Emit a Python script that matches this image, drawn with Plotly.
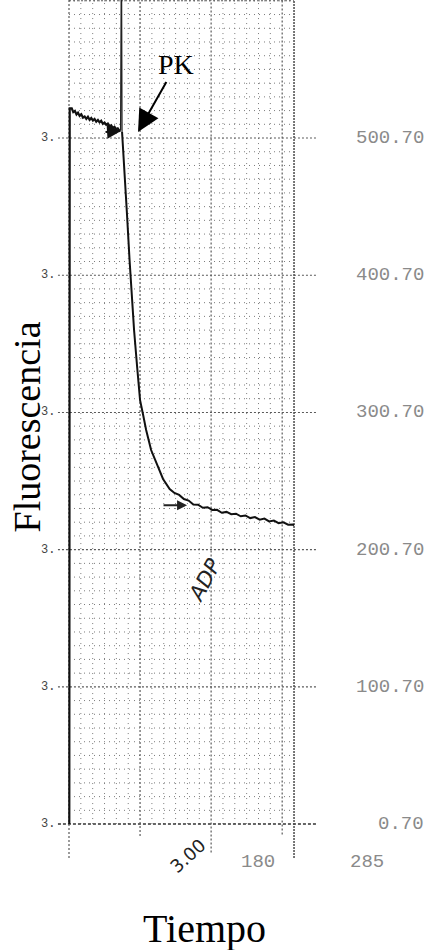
import plotly.graph_objects as go

# Fluorescence trace (time in s, fluorescence in arbitrary units)
baseline_t = [0.4, 0.9, 3.5, 5.4, 7.5, 9.5, 11.4, 13.5, 15.6, 17.7, 19.8, 21.9, 24.0, 26.1,
              28.2, 30.3, 32.4, 34.5, 36.6, 38.7, 40.8, 42.9, 45.0, 47.1, 49.2, 51.3, 53.4,
              55.5, 57.6, 59.7, 61.8, 63.9, 65.3]
baseline_f = [0.7, 522.3, 522.3, 519.6, 520.4, 517.9, 519.2, 516.8, 518.0, 515.6, 516.4, 514.6,
              516.2, 514.0, 515.3, 513.4, 514.6, 512.6, 513.8, 512.1, 513.3, 511.0, 512.0, 510.4,
              511.2, 509.2, 510.0, 508.1, 508.9, 507.2, 507.8, 506.0, 506.5]

# injection artefact when PK is added (goes off scale)
spike_t = [65.3, 65.6, 66.4, 67.2]
spike_f = [506.5, 650.0, 650.0, 505.1]

decay_t = [67.2, 70.4, 73.5, 76.7, 79.8, 82.4, 86.3, 90.0, 93.9, 97.7, 104.0, 110.3, 119.1,
           127.5, 133.5, 139.5, 145.5, 151.5, 157.5, 163.5, 169.5, 175.5, 181.5, 187.5, 193.5,
           199.5, 205.5, 211.5, 217.5, 223.5, 229.5, 235.5, 241.5, 247.5, 253.5, 259.5, 265.5,
           271.5, 277.5, 283.5, 285.0]
decay_f = [505.1, 477.4, 444.6, 411.8, 382.6, 360.8, 333.8, 309.7, 298.8, 287.9, 273.3, 264.5,
           252.2, 244.9, 242.0, 240.6, 237.6, 236.5, 233.6, 233.4, 231.2, 231.6, 229.6, 229.7,
           227.6, 228.2, 226.5, 226.9, 225.0, 225.6, 223.7, 224.4, 222.5, 223.3, 221.3, 221.9,
           220.0, 220.6, 218.9, 219.1, 218.3]

# axis scale
y_major = [0.7, 100.7, 200.7, 300.7, 400.7, 500.7]
y_minor_step = 10
x_major = [0, 90, 180, 270]
x_minor_step = 15
x_end = 285
x_labels = ["180", "285"]
x_label_pos = [180, 285]

# additions marked on the recording
pk_tip = (87.4, 505.1)
pk_mark = (65.9, 505.8)
adp_mark = (149.5, 233.0)

X_RANGE = [-17.73, 317.9]
Y_RANGE = [-25.5, 601.3]

fig = go.Figure()
fig.add_trace(go.Scatter(x=baseline_t, y=baseline_f, mode="lines",
                         line=dict(color="#111111", width=2.2),
                         hoverinfo="skip", showlegend=False))
fig.add_trace(go.Scatter(x=spike_t, y=spike_f, mode="lines",
                         line=dict(color="#222222", width=1.2),
                         hoverinfo="skip", showlegend=False))
fig.add_trace(go.Scatter(x=decay_t, y=decay_f, mode="lines",
                         line=dict(color="#111111", width=2),
                         hoverinfo="skip", showlegend=False))

shapes = []
minor_col = "#7c7c7c"
major_col = "#5a5a5a"
minor_dash = "1px,4px"
major_dash = "2px,2px"
top = Y_RANGE[1] + 5

# minor horizontal grid
for k in range(0, 61):
    v = 0.7 + y_minor_step * k
    if any(abs(v - m) < 1e-6 for m in y_major):
        continue
    shapes.append(dict(type="line", xref="x", yref="y", x0=0, x1=x_end, y0=v, y1=v,
                       line=dict(color=minor_col, width=1, dash=minor_dash), layer="below"))
# minor vertical grid
for k in range(1, 19):
    t = x_minor_step * k
    if t in x_major or t >= x_end:
        continue
    shapes.append(dict(type="line", xref="x", yref="y", x0=t, x1=t, y0=0.7, y1=top,
                       line=dict(color=minor_col, width=1, dash=minor_dash), layer="below"))
# major horizontal grid (runs past the frame)
for v in y_major:
    base = v == y_major[0]
    shapes.append(dict(type="line", xref="x", yref="y", x0=-14, x1=314, y0=v, y1=v,
                       line=dict(color="#333333" if base else major_col,
                                 width=1.6 if base else 1.1,
                                 dash="3px,2px" if base else major_dash),
                       layer="below"))
shapes.append(dict(type="line", xref="x", yref="y", x0=0, x1=x_end, y0=600.7, y1=600.7,
                   line=dict(color=major_col, width=1.1, dash=major_dash), layer="below"))
# major vertical grid (runs below the frame)
v_ends = {0: -24, 90: -8, 180: -20, 270: -7}
for t in x_major:
    shapes.append(dict(type="line", xref="x", yref="y", x0=t, x1=t, y0=v_ends[t], y1=top,
                       line=dict(color=major_col, width=1.2, dash=major_dash), layer="below"))
shapes.append(dict(type="line", xref="x", yref="y", x0=x_end, x1=x_end, y0=-24, y1=top,
                   line=dict(color="#4a4a4a", width=1.5, dash="2px,1px"), layer="below"))

annotations = []
mono = "Liberation Mono, DejaVu Sans Mono, monospace"
for v in y_major:
    annotations.append(dict(x=1.4, xref="paper", y=v, yref="y", xanchor="right",
                            yanchor="middle", text=f"{v:.2f}", showarrow=False,
                            font=dict(family=mono, size=19, color="#8a8a8a")))
    annotations.append(dict(x=0.008, xref="paper", y=v, yref="y", xanchor="right",
                            yanchor="middle", text="3.", showarrow=False,
                            font=dict(family=mono, size=12, color="#444444")))
x_shift = {"180": 47, "285": 73}
for lab, pos in zip(x_labels, x_label_pos):
    annotations.append(dict(x=pos, xref="x", y=0, yref="paper", xanchor="center",
                            yanchor="middle", yshift=-2, xshift=x_shift[lab], text=lab,
                            showarrow=False, font=dict(family=mono, size=19, color="#8a8a8a")))

serif = "Liberation Serif, Times New Roman, serif"
annotations.append(dict(x=pk_tip[0], y=pk_tip[1], xref="x", yref="y", ax=38, ay=-67,
                        text="PK", showarrow=True, arrowhead=2, arrowsize=2.2,
                        arrowwidth=2, arrowcolor="#000000", standoff=0,
                        font=dict(family=serif, size=28, color="#000000")))
annotations.append(dict(x=pk_mark[0], y=pk_mark[1], xref="x", yref="y", ax=-17, ay=1,
                        text="", showarrow=True, arrowhead=2, arrowsize=1.4,
                        arrowwidth=2, arrowcolor="#111111", standoff=0))
annotations.append(dict(x=adp_mark[0], y=adp_mark[1], xref="x", yref="y", ax=-25, ay=0,
                        text="", showarrow=True, arrowhead=2, arrowsize=1.0,
                        arrowwidth=2, arrowcolor="#222222", standoff=0))
annotations.append(dict(x=172.3, y=178.5, xref="x", yref="y", text="<i>ADP</i>",
                        showarrow=False, textangle=-62,
                        font=dict(family="DejaVu Sans", size=21, color="#222222")))
annotations.append(dict(x=180, xref="x", y=0, yref="paper", xshift=-23, yshift=-20,
                        text="3.00", showarrow=False, textangle=-42,
                        font=dict(family="DejaVu Sans", size=18, color="#222222")))
annotations.append(dict(x=-0.1075, xref="paper", y=0.5035, yref="paper", text="Fluorescencia",
                        textangle=-90, showarrow=False, xanchor="center", yanchor="middle",
                        font=dict(family=serif, size=38, color="#000000")))
annotations.append(dict(x=0.566, xref="paper", y=-0.0797, yref="paper", text="Tiempo",
                        showarrow=False, xanchor="center", yanchor="middle",
                        font=dict(family=serif, size=40, color="#000000")))

fig.update_layout(
    width=428, height=950, autosize=False,
    margin=dict(l=55, r=108, t=0, b=90, pad=0),
    paper_bgcolor="white", plot_bgcolor="white",
    shapes=shapes, annotations=annotations,
    xaxis=dict(range=X_RANGE, showgrid=False, zeroline=False, showticklabels=False,
               showline=False, ticks="", fixedrange=True),
    yaxis=dict(range=Y_RANGE, showgrid=False, zeroline=False, showline=False, ticks="",
               showticklabels=False, fixedrange=True),
)

fig.write_html("out.html")
